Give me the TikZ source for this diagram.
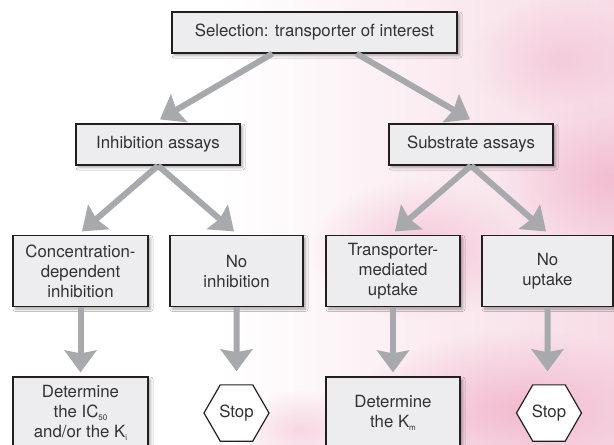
\documentclass[tikz,border=0pt]{standalone}
\usepackage{fontspec}
\setmainfont{TeX Gyre Heros}
\usetikzlibrary{arrows.meta,shapes.geometric,calc,fadings,shadows.blur}
\definecolor{pkA}{RGB}{247,220,230}
\definecolor{pkB}{RGB}{241,182,204}
\definecolor{boxfill}{RGB}{237,237,239}
\definecolor{boxline}{RGB}{35,31,32}
\definecolor{arrowgray}{RGB}{167,169,172}
\definecolor{txt}{RGB}{50,50,50}
\tikzfading[name=fadeout, inner color=transparent!0, outer color=transparent!100]
\newcommand{\lowsub}[1]{\raisebox{-3.5pt}{\fontsize{8}{8}\selectfont #1}}
\begin{document}
\begin{tikzpicture}[x=1pt,y=-1pt,
  flowbox/.style={draw=boxline, line width=1.2pt, fill=boxfill, text=txt,
    align=center, inner sep=0pt, font=\fontsize{16.8}{20}\selectfont,
    blur shadow={shadow xshift=2.5pt, shadow yshift=-2.5pt, shadow blur radius=2.5pt, shadow opacity=35}},
  stophex/.style={regular polygon, regular polygon sides=6, draw=boxline, line width=1.2pt,
    fill=white, text=txt, inner sep=0pt, minimum size=65pt, font=\fontsize{16.8}{20}\selectfont},
  bigarrow/.style={draw=arrowgray, line width=6pt,
    -{Stealth[length=22pt, width=32pt, inset=3pt, fill=arrowgray]}}
]
\useasboundingbox (0,0) rectangle (614,445);
% background
\fill[white] (0,0) rectangle (614,445);
\shade[left color=white, right color=pkA] (220,0) rectangle (614,445);
\fill[pkB, path fading=fadeout, opacity=0.8] (610,180) ellipse (110 and 80);
\fill[pkB, path fading=fadeout, opacity=0.9] (520,410) ellipse (170 and 80);
\fill[pkB, path fading=fadeout, opacity=0.7] (420,250) ellipse (110 and 70);
\fill[pkB, path fading=fadeout, opacity=0.5] (300,430) ellipse (70 and 40);
\fill[pkB, path fading=fadeout, opacity=0.5] (560,60) ellipse (90 and 60);
% nodes
\node[flowbox, minimum width=285pt, minimum height=41pt] (top) at (314.5,32.5) {Selection: transporter of interest};
\node[flowbox, minimum width=164pt, minimum height=41pt] (inh) at (158,144.5) {Inhibition assays};
\node[flowbox, minimum width=164pt, minimum height=41pt] (sub) at (471,144.5) {Substrate assays};
\node[flowbox, minimum width=135pt, minimum height=71pt] (conc) at (80.5,271) {Concentration-\\dependent\\inhibition};
\node[flowbox, minimum width=133pt, minimum height=71pt] (noinh) at (236.5,271) {No\\inhibition};
\node[flowbox, minimum width=134pt, minimum height=71pt] (trans) at (393,271) {Transporter-\\mediated\\uptake};
\node[flowbox, minimum width=131pt, minimum height=71pt] (noup) at (547.5,271) {No\\uptake};
\node[flowbox, minimum width=135pt, minimum height=72pt] (detic) at (80.5,413) {Determine\\the IC\lowsub{50}\\and/or the K\lowsub{i}};
\node[stophex] (stop1) at (236.5,413) {Stop};
\node[flowbox, minimum width=134pt, minimum height=72pt] (detk) at (393,413) {Determine\\the K\lowsub{m}};
\node[stophex] (stop2) at (549,413) {Stop};
% connectors
\draw[bigarrow] ($(top.south)+(-42,0)$) -- ($(inh.north)+(2,-4)$);
\draw[bigarrow] ($(top.south)+(42,0)$) -- ($(sub.north)+(-1,-4)$);
\draw[bigarrow] (inh.south) -- ($(conc.north)+(1.5,-3.5)$);
\draw[bigarrow] (inh.south) -- ($(noinh.north)+(-2.5,-3.5)$);
\draw[bigarrow] (sub.south) -- ($(trans.north)+(2,-3.5)$);
\draw[bigarrow] (sub.south) -- ($(noup.north)+(-1.5,-3.5)$);
\draw[bigarrow] (conc.south) -- ($(detic.north)+(0,-4)$);
\draw[bigarrow] (noinh.south) -- ($(stop1.north)+(0,-13)$);
\draw[bigarrow] (trans.south) -- ($(detk.north)+(0,-4)$);
\draw[bigarrow] (noup.south) -- ($(stop2.north)+(-1.5,-13)$);
\end{tikzpicture}
\end{document}
